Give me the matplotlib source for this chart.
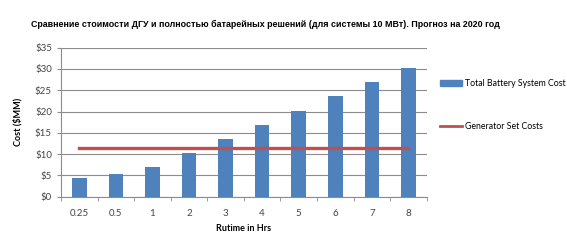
import numpy as np
import matplotlib.pyplot as plt
from matplotlib.patches import Patch
from matplotlib.lines import Line2D

plt.rcParams['font.family'] = ['Lato', 'DejaVu Sans']

runtime = ["0.25", "0.5", "1", "2", "3", "4", "5", "6", "7", "8"]
battery_cost = [4.5, 5.3, 6.9, 10.3, 13.6, 16.9, 20.2, 23.6, 26.9, 30.2]
generator_cost = [11.4] * len(runtime)
yticks = [0, 5, 10, 15, 20, 25, 30, 35]

blue = "#4F81BD"
red = "#C0504D"
grid_c = "#8c8c8c"

fig = plt.figure(figsize=(5.67, 2.42), dpi=100)
ax = fig.add_axes([0.1076, 0.187, 0.645, 0.616])

x = np.arange(len(runtime))
ax.bar(x, battery_cost, width=0.4, color=blue, zorder=3)
ax.plot(x, generator_cost, color=red, lw=2.4, zorder=4)

ax.set_xlim(-0.5, len(runtime) - 0.5)
ax.set_ylim(0, 35)
ax.set_yticks(yticks)
ax.set_yticklabels(["$%d" % v for v in yticks])
ax.set_xticks(x)
ax.set_xticklabels(runtime)
ax.set_xticks(np.arange(-0.5, len(runtime)), minor=True)
ax.tick_params(axis='x', which='major', length=0, pad=9, labelsize=7, colors='#444444')
ax.tick_params(axis='x', which='minor', length=3, color=grid_c)
ax.tick_params(axis='y', length=3, color=grid_c, labelsize=7, labelcolor='#444444')
ax.yaxis.grid(True, color=grid_c, lw=0.8, zorder=0)

for s in ['top', 'right']:
    ax.spines[s].set_visible(False)
for s in ['left', 'bottom']:
    ax.spines[s].set_color(grid_c)
    ax.spines[s].set_linewidth(0.8)

ax.set_ylabel("Cost ($MM)", fontsize=6.5, fontweight='bold', labelpad=9)
ax.set_xlabel("Rutime in Hrs", fontsize=6.5, fontweight='bold', labelpad=4)

fig.text(0.468, 0.9, "Сравнение стоимости ДГУ и полностью батарейных решений (для системы 10 МВт). Прогноз на 2020 год",
         ha='center', va='center', fontsize=6.4, fontweight='bold', family=['Liberation Sans', 'DejaVu Sans'])

handles = [Patch(color=blue), Line2D([0], [0], color=red, lw=2)]
fig.legend(handles, ["Total Battery System Cost", "Generator Set Costs"],
           loc='upper left', bbox_to_anchor=(0.762, 0.705), frameon=False,
           fontsize=6.3, labelspacing=3.9, handlelength=2.5, handletextpad=0.35)

fig.savefig("out.png", dpi=100)
